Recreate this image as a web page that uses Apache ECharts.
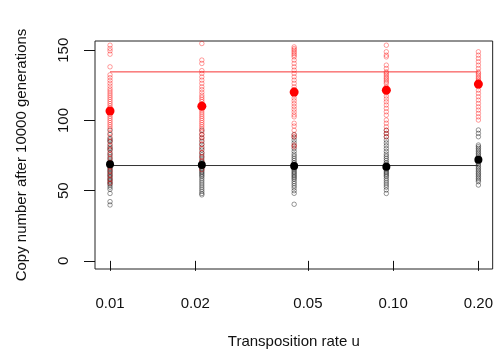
<!DOCTYPE html>
<html>
<head>
<meta charset="utf-8">
<script src="https://cdn.jsdelivr.net/npm/echarts@6/dist/echarts.min.js"></script>
<style>
  html, body { margin: 0; padding: 0; background: #fff; }
  #chart { width: 496px; height: 356px; }
</style>
</head>
<body>
<div id="chart"></div>
<script>
// Transposition rates simulated (geometric steps from 0.01 to 0.2)
const rates = [0.01, 0.0211, 0.0447, 0.0946, 0.2];
// Axis tick positions and labels
const xTicks = [0.01, 0.02, 0.05, 0.10, 0.20];
const yTicks = [0, 50, 100, 150];

// Copy numbers after 10000 generations, one list per rate (red group)
const redRuns = [
  [153.6, 151.3, 149.6, 147.2, 138.2, 132.5, 130.5, 128.5, 126.5, 124.5, 122.5, 121, 119.5, 118, 116.5, 115, 113.5, 112, 110.5, 109, 107.5, 106, 104.5, 103, 101.5, 100, 98.5, 97, 95.5, 94, 91, 88, 85, 82, 79, 76, 73, 70, 67, 64, 61, 58, 55.5],
  [154.8, 143, 140.6, 135.5, 133.5, 131, 128.7, 126.4, 124, 122, 120, 118, 116.5, 115, 113.5, 112, 110.5, 109, 107.5, 106, 104.5, 103, 101.5, 100, 98.5, 97, 95.5, 94, 92, 90, 88, 86, 83, 80, 77, 74, 71, 68, 65],
  [152.4, 151.2, 150.1, 148.9, 147.7, 146.5, 145.3, 143, 140.6, 138.2, 135.8, 133.5, 131.1, 128.7, 126.4, 124, 122, 120, 118, 116, 114, 112, 110, 108, 106, 104, 102.6, 98, 96, 93, 89.6, 88.4, 82.5, 81.3],
  [153.6, 148.9, 146.5, 145.3, 139.4, 137, 134.6, 133.5, 132.3, 131, 129.9, 128.7, 127.5, 126.3, 124, 122, 119.6, 117.4, 115.3, 113.3, 111, 108.6, 106.2, 103.8, 100.3, 98, 95.5, 93, 90.7, 88.4],
  [148.9, 146.5, 144.2, 141.8, 139.4, 137, 134.6, 133.5, 132.3, 131, 129.9, 128.7, 127.5, 126.3, 125, 124, 121.6, 119.3, 116.9, 114.5, 112.1, 109.7, 107.4, 105, 102.6, 100.3]
];
// Copy numbers after 10000 generations, one list per rate (black group)
const blackRuns = [
  [93, 90, 87, 86, 85, 83, 81, 80, 79, 77, 75.5, 74, 72.5, 71, 70, 69, 68, 67, 66, 65, 64, 63, 62, 61, 60, 59, 58, 57, 56, 55, 54, 52.5, 51, 48, 42.2, 39.8],
  [93, 90, 87.5, 85, 83, 81, 79, 77, 75.5, 74, 72.5, 71, 70, 69, 68, 67, 66, 65, 64, 63, 62, 61, 60, 58.5, 57, 55.5, 54, 52.5, 51, 49.5, 48, 47],
  [90, 88, 86, 84, 82, 80, 78, 76, 74.5, 73, 71.5, 70, 69, 68, 67, 66, 65, 64, 63, 62, 61, 60, 59, 58, 56.5, 55, 53.5, 52, 50, 48.1, 40.3],
  [93, 90.7, 88.4, 86, 84, 82, 80, 78, 76, 74.5, 73, 71.5, 70, 69, 68, 67, 66, 65, 64, 63, 62, 61, 60, 58.5, 57, 55.5, 54, 52.5, 50.5, 48],
  [93.2, 90.8, 88.4, 82.5, 81.3, 80.1, 78.9, 77.7, 76.5, 75.4, 74.2, 73, 71.8, 70.7, 69.5, 68.3, 67.1, 65.9, 64.7, 63.5, 62.3, 61.2, 60, 58.8, 57.6, 56.4, 54]
];
// Group means per rate
const redMeans = [106.7, 110.2, 120.2, 121.6, 125.9];
const blackMeans = [68.8, 68.3, 67.6, 67.1, 72.1];
// Reference levels drawn across the rate range
const redLevel = 134.6;
const blackLevel = 67.9;

function cloud(runs) {
  const pts = [];
  runs.forEach((vals, i) => vals.forEach(v => pts.push([rates[i], v])));
  return pts;
}
function pairs(vals) {
  return vals.map((v, i) => [rates[i], v]);
}
function level(v) {
  return [[rates[0], v], [rates[rates.length - 1], v]];
}

const font = 'Liberation Sans, Arial, Helvetica, sans-serif';
const chart = echarts.init(document.getElementById('chart'), null, { renderer: 'canvas', width: 496, height: 356 });

chart.setOption({
  animation: false,
  backgroundColor: '#fff',
  grid: {
    left: 95, top: 41, width: 398, height: 228,
    show: true, borderColor: '#222', borderWidth: 1, backgroundColor: 'transparent'
  },
  xAxis: {
    type: 'log',
    logBase: 10,
    min: 0.00885,
    max: 0.2246,
    name: 'Transposition rate u',
    nameLocation: 'middle',
    nameGap: 65,
    nameTextStyle: { fontFamily: font, fontSize: 15, color: '#111' },
    axisLine: { show: false },
    splitLine: { show: false },
    axisTick: { show: true, length: 10, lineStyle: { color: '#111' }, customValues: xTicks },
    axisLabel: {
      customValues: xTicks,
      margin: 27,
      fontFamily: font, fontSize: 15, color: '#111',
      formatter: v => Number(v).toFixed(2)
    }
  },
  yAxis: {
    type: 'value',
    min: -5.8,
    max: 156.6,
    name: 'Copy number after 10000 generations',
    nameLocation: 'middle',
    nameGap: 66,
    nameTextStyle: { fontFamily: font, fontSize: 15, color: '#111' },
    axisLine: { show: false },
    splitLine: { show: false },
    axisTick: { show: true, length: 11, lineStyle: { color: '#111' }, customValues: yTicks },
    axisLabel: {
      customValues: yTicks,
      rotate: 90,
      margin: 24,
      fontFamily: font, fontSize: 15, color: '#111'
    }
  },
  series: [
    {
      type: 'scatter',
      data: cloud(blackRuns),
      symbol: 'circle',
      symbolSize: 4.5,
      itemStyle: { color: 'transparent', borderColor: 'rgba(0,0,0,0.4)', borderWidth: 1, opacity: 1 },
      z: 2
    },
    {
      type: 'scatter',
      data: cloud(redRuns),
      symbol: 'circle',
      symbolSize: 4.5,
      itemStyle: { color: 'transparent', borderColor: 'rgba(255,0,0,0.38)', borderWidth: 1, opacity: 1 },
      z: 2
    },
    {
      type: 'line',
      data: level(redLevel),
      showSymbol: false,
      lineStyle: { color: 'rgba(245,30,30,0.9)', width: 1 },
      z: 3
    },
    {
      type: 'line',
      data: level(blackLevel),
      showSymbol: false,
      lineStyle: { color: '#333', width: 1 },
      z: 3
    },
    {
      type: 'scatter',
      data: pairs(redMeans),
      symbol: 'circle',
      symbolSize: 9,
      itemStyle: { color: '#ff0000', opacity: 1 },
      z: 4
    },
    {
      type: 'scatter',
      data: pairs(blackMeans),
      symbol: 'circle',
      symbolSize: 8,
      itemStyle: { color: '#000', opacity: 1 },
      z: 4
    }
  ]
});
</script>
</body>
</html>
